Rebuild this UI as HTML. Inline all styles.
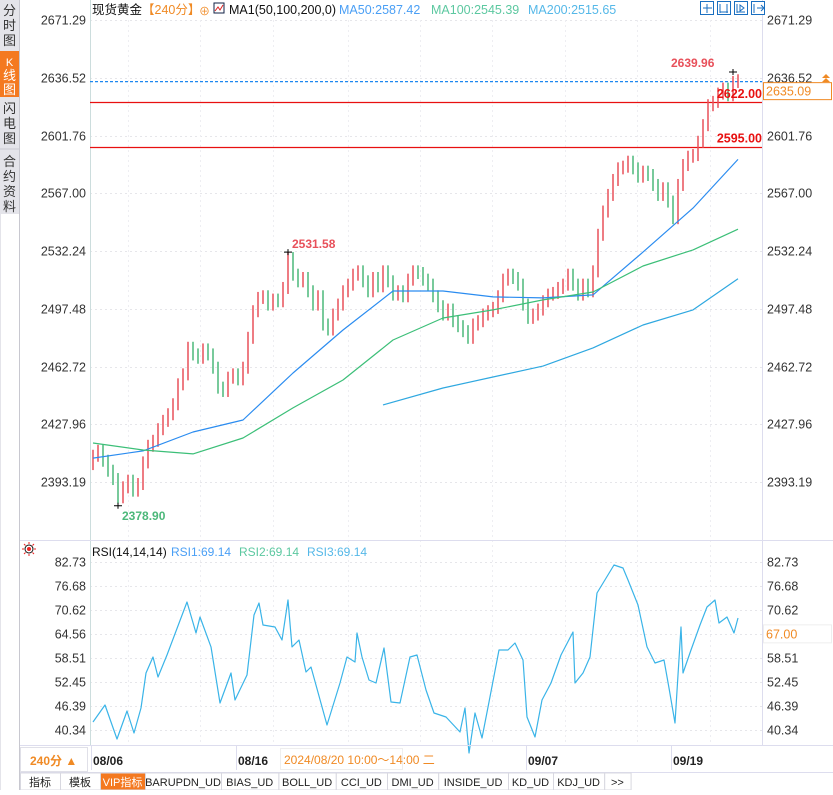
<!DOCTYPE html>
<html><head><meta charset="utf-8">
<style>
body{margin:0;width:833px;height:790px;overflow:hidden;background:#fff;font-family:"Liberation Sans","Noto Sans CJK SC",sans-serif;}
#wrap{position:relative;width:833px;height:790px;}
svg text{font-family:"Liberation Sans","Noto Sans CJK SC",sans-serif;}
</style></head>
<body><div id="wrap">
<svg id="svg" width="833" height="790">
  <rect x="0" y="0" width="19" height="790" fill="#e4e4ea"/>
  <line x1="19.5" y1="0" x2="19.5" y2="790" stroke="#c8c8d0"/>
  <g><rect x="0" y="0" width="19" height="50" fill="#e4e4ea"/><text x="9.5" y="15" font-size="13" text-anchor="middle" fill="#333">分</text><text x="9.5" y="30" font-size="13" text-anchor="middle" fill="#333">时</text><text x="9.5" y="45" font-size="13" text-anchor="middle" fill="#333">图</text></g>
  <g><rect x="0" y="51" width="19" height="46" fill="#f47920"/><text x="9.5" y="66" font-size="11" text-anchor="middle" fill="#fff">K</text><text x="9.5" y="80" font-size="13" text-anchor="middle" fill="#fff">线</text><text x="9.5" y="94" font-size="13" text-anchor="middle" fill="#fff">图</text></g>
  <g><text x="9.5" y="113" font-size="13" text-anchor="middle" fill="#333">闪</text><text x="9.5" y="128" font-size="13" text-anchor="middle" fill="#333">电</text><text x="9.5" y="143" font-size="13" text-anchor="middle" fill="#333">图</text><line x1="0" y1="149" x2="19" y2="149" stroke="#c8c8d0"/></g>
  <g><text x="9.5" y="166" font-size="13" text-anchor="middle" fill="#333">合</text><text x="9.5" y="181" font-size="13" text-anchor="middle" fill="#333">约</text><text x="9.5" y="196" font-size="13" text-anchor="middle" fill="#333">资</text><text x="9.5" y="211" font-size="13" text-anchor="middle" fill="#333">料</text><rect x="1" y="214" width="18" height="576" fill="#fff"/></g>
  <g id="grid"></g>
  <line x1="90.5" y1="0" x2="90.5" y2="745" stroke="#cdd"/>
  <line x1="762.5" y1="0" x2="762.5" y2="745" stroke="#dde"/>
  <line x1="20" y1="540.5" x2="833" y2="540.5" stroke="#dde"/>
  <g id="marks"></g>
  <text x="92" y="14" font-size="12.5" fill="#111">现货黄金</text>
  <text x="142" y="14" font-size="12.5" fill="#f08a24">【240分】</text>
  <text x="199" y="15" font-size="11" fill="#f08a24">⊕</text>
  <rect x="214" y="3" width="10" height="10" fill="#fff" stroke="#124"/>
  <polyline points="215,11 218,7 220,10 223,5" fill="none" stroke="#d22"/>
  <text x="229" y="14" font-size="12.5" fill="#111">MA1(50,100,200,0)</text>
  <text x="339" y="14" font-size="12.5" fill="#4a9ff5">MA50:2587.42</text>
  <text x="431" y="14" font-size="12.5" fill="#5cc8a0">MA100:2545.39</text>
  <text x="528" y="14" font-size="12.5" fill="#55b8e8">MA200:2515.65</text>
  <g>
    <rect x="700.5" y="1.5" width="13" height="13" fill="#fff" stroke="#1a6fc0"/><rect x="717.5" y="1.5" width="13" height="13" fill="#fff" stroke="#1a6fc0"/><rect x="734.5" y="1.5" width="13" height="13" fill="#fff" stroke="#1a6fc0"/><rect x="751.5" y="1.5" width="13" height="13" fill="#fff" stroke="#1a6fc0"/>
    <path d="M707 4v9M703 8h9M720 4v9M727 4v9M720 12h8M737 4v9M737 12h8M740 5l4 3-4 3zM754 4v9M757 8h6M761 5l3 3-3 3" stroke="#1a6fc0" fill="none"/>
  </g>
  <g><circle cx="29" cy="549" r="4" fill="none" stroke="#111"/><circle cx="29" cy="549" r="2" fill="#e22"/><path d="M29 542v2M29 554v2M22 549h2M34 549h2M24 544l1.5 1.5M34 544l-1.5 1.5M24 554l1.5-1.5M34 554l-1.5-1.5" stroke="#e22"/></g>
  <text x="92" y="556" font-size="12" fill="#111">RSI(14,14,14)</text>
  <text x="171" y="556" font-size="12" fill="#4a9ff5">RSI1:69.14</text>
  <text x="239" y="556" font-size="12" fill="#5cc8a0">RSI2:69.14</text>
  <text x="307" y="556" font-size="12" fill="#55b8e8">RSI3:69.14</text>
  <line x1="20" y1="745.5" x2="833" y2="745.5" stroke="#dde"/>
  <rect x="20.5" y="747.5" width="67" height="24" fill="#fff" stroke="#e0e0e8"/>
  <text x="30" y="765" font-size="12" font-weight="bold" fill="#f08a24">240分 ▲</text>
  <g id="dates"></g>
  <rect x="280.5" y="748.5" width="122" height="21" fill="#fff" stroke="#eee"/>
  <text x="284" y="764" font-size="12" fill="#f08a24">2024/08/20 10:00～14:00 二</text>
  <g id="tabs"></g>
</svg>
</div>
<script>
const closes=[2409,2412,2406,2400,2395,2384,2390,2394,2388,2392,2405,2415,2418,2425,2430,2434,2440,2452,2458,2474,2470,2468,2473,2470,2462,2450,2448,2456,2458,2455,2462,2480,2496,2504,2505,2500,2503,2502,2510,2528,2518,2514,2516,2508,2500,2505,2488,2485,2494,2500,2508,2512,2518,2520,2514,2508,2516,2511,2520,2514,2506,2508,2505,2515,2520,2519,2515,2512,2505,2499,2494,2497,2490,2487,2484,2480,2488,2490,2494,2496,2498,2505,2515,2518,2516,2512,2500,2492,2494,2497,2502,2506,2507,2510,2512,2518,2512,2506,2512,2508,2520,2542,2556,2566,2575,2582,2583,2586,2582,2577,2580,2578,2572,2566,2570,2562,2552,2572,2584,2589,2590,2598,2608,2620,2622,2627,2630,2626,2634,2635];
const firstOpen=2404;
const ma50Idx=[0,10,20,30,40,50,60,70,80,90,100,110,120,129];
const ma50=[2407.6,2411.9,2423.3,2430.5,2458.8,2484.7,2508.2,2508.2,2504.6,2504,2505.8,2531.6,2558.1,2587.4];
const ma100Idx=[0,10,20,30,40,50,60,70,80,90,100,110,120,129];
const ma100=[2416.7,2412.5,2410.1,2419.7,2437.8,2454.6,2478.7,2491.9,2496.8,2502.8,2507.6,2523.2,2532.9,2545.4];
const ma200Idx=[58,70,80,90,100,110,120,129];
const ma200=[2439.6,2449.8,2456.4,2463.0,2473.9,2487.7,2496.8,2515.6];
const rsiIdx=[0,2.4,4.8,6.8,8.2,9.6,10.6,12,13,14.8,18.8,20.6,21.4,23.6,25.4,27.6,28.4,30.8,32.2,33.2,34,36.4,37.8,39,39.8,41.2,42.6,43.6,46.8,49.4,50.8,52.4,52.8,53.8,55.2,56.6,58.2,59.6,61.4,63.4,64.8,66.6,68.2,70.6,73.4,74.4,75.2,76.4,77.8,79.2,81.2,83,84.4,86,86.8,88.4,89.8,91.6,93.6,96,96.4,98,99.4,100.8,104.2,106,107,109,110.8,112.4,114.2,115.2,116.4,117.6,118,119.6,121.4,122.8,124.4,125.2,126.8,128.2,129];
const rsi=[42.36,46.65,38.07,45.14,39.59,45.89,54.72,58.76,53.71,59.26,72.64,64.82,68.85,61.30,47.16,54.72,47.91,54.22,69.36,72.39,66.84,66.33,63.05,73.14,61.30,63.05,54.98,56.24,41.60,52.20,58.76,57.50,64.82,58.76,52.96,52.20,61.03,47.41,47.16,58.76,59.26,50.44,44.63,43.62,39.84,45.89,34.54,44.63,38.32,47.41,60.53,60.53,62.29,58.00,43.62,38.58,47.91,52.20,59.26,65.07,52.20,54.72,58.76,74.91,81.97,81.22,78.19,71.88,61.30,57.25,58.00,50.94,42.11,66.33,54.72,60.53,66.84,71.38,73.14,67.34,68.85,64.82,68.60];
const priceTicks=["2671.29","2636.52","2601.76","2567.00","2532.24","2497.48","2462.72","2427.96","2393.19"];
const rsiTicks=["82.73","76.68","70.62","64.56","58.51","52.45","46.39","40.34"];
const dateLabels=["08/06","08/16","09/07","09/19"];
const dateIdx=[0,29,87,116];
const levels=[2622.00,2595.00];
const lastPrice=2635.09, highMark=2639.96, highIdx=128, peakMid=2531.58, peakMidIdx=39, lowMark=2378.90, lowIdx=5;
const rsiLevel=67.00;
const tabNames=["指标","模板","VIP指标","BARUPDN_UD","BIAS_UD","BOLL_UD","CCI_UD","DMI_UD","INSIDE_UD","KD_UD","KDJ_UD",">>"];
const X=i=>93+i*5;
const Y=p=>20+(2671.29-p)*(57.75/34.76);
const RY=v=>562+(82.73-v)*(168/42.39);
const NS="http://www.w3.org/2000/svg";
function mk(tag,attrs,parent,txt){const e=document.createElementNS(NS,tag);for(const k in attrs)e.setAttribute(k,attrs[k]);if(txt!==undefined)e.textContent=txt;parent.appendChild(e);return e;}
const grid=document.getElementById('grid'), marks=document.getElementById('marks');
priceTicks.forEach(t=>{const y=Math.round(Y(+t))+0.5;
  const l=mk('line',{x1:90,y1:y,x2:762,y2:y,stroke:'#e6e6ea','stroke-dasharray':'2,3'},grid);
  
  
  const a=mk('text',{x:86,y:y+4,'font-size':12.5,'text-anchor':'end',fill:'#333'},grid,t);
  
  
  const b=mk('text',{x:767,y:y+4,'font-size':12.5,fill:'#333'},grid,t);
  
  
});
rsiTicks.forEach(t=>{const y=Math.round(RY(+t))+0.5;
  const l=mk('line',{x1:90,y1:y,x2:762,y2:y,stroke:'#e6e6ea','stroke-dasharray':'2,3'},grid);
  
  
  const a=mk('text',{x:86,y:y+4,'font-size':12.5,'text-anchor':'end',fill:'#333'},grid,t);
  
  
  const b=mk('text',{x:767,y:y+4,'font-size':12.5,fill:'#333'},grid,t);
  
  
});
[128,200,273,348,420,492,565,637,710].forEach(x=>{
  const l=mk('line',{x1:x+.5,y1:20,x2:x+.5,y2:745,stroke:'#eeeef2','stroke-dasharray':'2,3'},grid);
  
  
});
const dash=mk('line',{x1:90,y1:Y(lastPrice)+1.5,x2:762,y2:Y(lastPrice)+1.5,stroke:'#1e88f0','stroke-dasharray':'3,2','stroke-width':1.2},marks);


levels.forEach(v=>{const y=Math.round(Y(v))+0.5;
  const l=mk('line',{x1:90,y1:y,x2:762,y2:y,stroke:'#e81010','stroke-width':1.2},marks);
  
  
});
closes.forEach((c,i)=>{const o=i?closes[i-1]:firstOpen;
  const up=c>=o; const col=up?'#e8505a':'#4cb87a';
  let y1=Y(Math.max(o,c)), y2=Y(Math.min(o,c));
  const r=mk('rect',{x:X(i)-0.75,y:y1-6,width:1.5,height:y2-y1+12,fill:col},marks);
  
  
});
function line(idx,vals,col,name,yf){const d=vals.map((v,k)=>(k?'L':'M')+X(idx[k]).toFixed(1)+' '+yf(v).toFixed(1)).join('');
  const p=mk('path',{d:d,fill:'none',stroke:col,'stroke-width':1.2,'stroke-linejoin':'round'},marks);
  
  }
line(ma50Idx,ma50,'#2b8cf0','ma50-line',Y);
line(ma100Idx,ma100,'#3cbf78','ma100-line',Y);
line(ma200Idx,ma200,'#2fa8e0','ma200-line',Y);
line(rsiIdx,rsi,'#3ab4e8','rsi-line',RY);
function ann(i,v,txt,col,dx,dy,name){
  mk('path',{d:`M${X(i)-4} ${Y(v)}h8M${X(i)} ${Y(v)-3}v6`,stroke:'#000'},marks);
  const t=mk('text',{x:X(i)+dx,y:Y(v)+dy,'font-size':12,'font-weight':'bold',fill:col},marks,txt);
  
  }
ann(highIdx,highMark,highMark.toFixed(2),'#e8505a',-62,-5,'high-label');
ann(peakMidIdx,peakMid,peakMid.toFixed(2),'#e8505a',4,-4,'swing-high-label');
ann(lowIdx,lowMark,lowMark.toFixed(2),'#4cb87a',4,14,'low-label');
levels.forEach(v=>{const t=mk('text',{x:762,y:Y(v)-4,'font-size':12.5,'font-weight':'bold','text-anchor':'end',fill:'#e81010'},marks,v.toFixed(2));
  
  });
const lp=mk('rect',{x:763.5,y:Y(lastPrice)+2.5,width:68,height:17,fill:'#fff',stroke:'#f08a24'},marks);


const lpt=mk('text',{x:766,y:Y(lastPrice)+15.5,'font-size':12.5,fill:'#f08a24'},marks,lastPrice.toFixed(2));


mk('path',{d:'M822 78l4-4 4 4zM822 82l4-4 4 4z',fill:'#f08a24'},marks);
const rb=mk('rect',{x:763.5,y:RY(rsiLevel)+0.5,width:68,height:18,fill:'#fff',stroke:'#eee'},marks);


const rt=mk('text',{x:766,y:RY(rsiLevel)+14,'font-size':12.5,fill:'#f08a24'},marks,rsiLevel.toFixed(2));


const dg=document.getElementById('dates');
dateLabels.forEach((d,k)=>{const x=X(dateIdx[k])-2;
  mk('line',{x1:x+.5,y1:746,x2:x+.5,y2:770,stroke:'#dde'},dg);
  const t=mk('text',{x:x+2,y:765,'font-size':12,'font-weight':'bold',fill:'#222'},dg,d);
  
  });
const tg=document.getElementById('tabs');
mk('rect',{x:20,y:772,width:813,height:18,fill:'#fff'},tg);
mk('line',{x1:20,y1:772.5,x2:833,y2:772.5,stroke:'#dde'},tg);
let tx=20;
tabNames.forEach((n,k)=>{const w=n.length*(/[A-Z_>]/.test(n)?6.2:13)+14;
  const vip=k===2;
  const r=mk('rect',{x:tx+.5,y:773,width:w,height:17,fill:vip?'#f47920':'#fff',stroke:'#d8d8e0'},tg);
  
  
  const t=mk('text',{x:tx+w/2,y:786,'font-size':11,'text-anchor':'middle',fill:vip?'#fff':'#222','font-family':'"Liberation Mono","Noto Sans CJK SC",monospace'},tg,n);
  
  
  tx+=w;});
</script>
</body></html>
